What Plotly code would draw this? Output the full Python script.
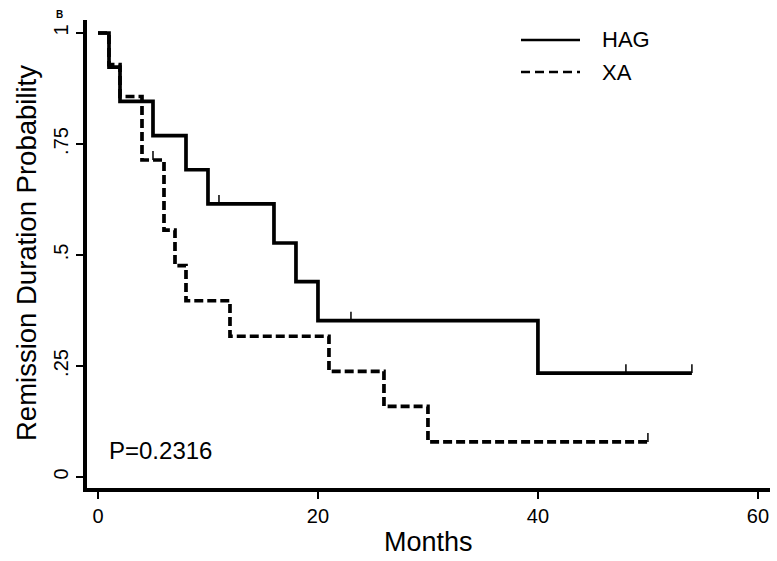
import plotly.graph_objects as go

# Kaplan-Meier step data (months, survival probability)
hag_times = [0, 1, 2, 5, 8, 10, 16, 18, 20, 40, 54]
hag_surv = [1.0, 0.923, 0.846, 0.769, 0.692, 0.615, 0.527, 0.440, 0.352, 0.234, 0.234]
hag_censor_t = [11, 23, 48, 54]
hag_censor_s = [0.615, 0.352, 0.234, 0.234]

xa_times = [0, 1, 2, 4, 6, 7, 8, 12, 21, 26, 30, 50]
xa_surv = [1.0, 0.929, 0.857, 0.714, 0.556, 0.476, 0.397, 0.317, 0.238, 0.159, 0.079, 0.079]
xa_censor_t = [5, 50]
xa_censor_s = [0.714, 0.079]

x_ticks = [0, 20, 40, 60]
y_ticks = [0, 0.25, 0.5, 0.75, 1]
y_ticktext = ["0", ".25", ".5", ".75", "1"]

FONT = "Liberation Sans, Arial, sans-serif"
W, H = 777, 561
ML, MR, MT, MB = 87, 7, 20, 73
PW, PH = W - ML - MR, H - MT - MB


def px(xp):
    return (xp - ML) / PW


def py(yp):
    return (H - MB - yp) / PH


def censor_segments(ts, ss, h=0.02):
    xs, ys = [], []
    for t, s in zip(ts, ss):
        xs += [t, t, None]
        ys += [s, s + h, None]
    return xs, ys


fig = go.Figure()
fig.add_trace(go.Scatter(x=hag_times, y=hag_surv, mode="lines", line_shape="hv",
                         line=dict(color="black", width=3.7), name="HAG"))
cx, cy = censor_segments(hag_censor_t, hag_censor_s)
fig.add_trace(go.Scatter(x=cx, y=cy, mode="lines", line=dict(color="black", width=1.5),
                         showlegend=False, hoverinfo="skip"))

fig.add_trace(go.Scatter(x=xa_times, y=xa_surv, mode="lines", line_shape="hv",
                         line=dict(color="black", width=3.7, dash="9px,4px"), name="XA"))
cx, cy = censor_segments(xa_censor_t, xa_censor_s)
fig.add_trace(go.Scatter(x=cx, y=cy, mode="lines", line=dict(color="black", width=1.5),
                         showlegend=False, hoverinfo="skip"))

# manual legend
fig.add_shape(type="line", xref="paper", yref="paper", x0=px(521), x1=px(580), y0=py(40), y1=py(40),
              line=dict(color="black", width=2.5))
fig.add_shape(type="line", xref="paper", yref="paper", x0=px(521), x1=px(580), y0=py(72), y1=py(72),
              line=dict(color="black", width=2.5, dash="9px,5px"))
fig.add_annotation(xref="paper", yref="paper", x=px(600), y=py(40), text="HAG", showarrow=False,
                   xanchor="left", yanchor="middle", font=dict(family=FONT, size=22, color="black"))
fig.add_annotation(xref="paper", yref="paper", x=px(600), y=py(72), text="XA", showarrow=False,
                   xanchor="left", yanchor="middle", font=dict(family=FONT, size=22, color="black"))

fig.add_annotation(x=0.8, y=0.06, text="P=0.2316", showarrow=False, xanchor="left", yanchor="middle",
                   font=dict(family=FONT, size=24, color="black"))
fig.add_annotation(xref="paper", yref="paper", x=px(59), y=py(14), text="<b>B</b>",
                   showarrow=False, xanchor="center", yanchor="middle",
                   font=dict(family=FONT, size=10, color="black"))

# axis titles
fig.add_annotation(xref="paper", yref="paper", x=px(428), y=py(542), text="Months", showarrow=False,
                   xanchor="center", yanchor="middle", font=dict(family=FONT, size=27, color="black"))
fig.add_annotation(xref="paper", yref="paper", x=px(26), y=py(253), text="Remission Duration Probability",
                   showarrow=False, textangle=-90, xanchor="center", yanchor="middle",
                   font=dict(family=FONT, size=27.5, color="black"))

fig.update_layout(
    width=W, height=H,
    margin=dict(l=ML, r=MR, t=MT, b=MB),
    plot_bgcolor="white", paper_bgcolor="white",
    showlegend=False,
    font=dict(family=FONT, color="black"),
    xaxis=dict(range=[-1, 61.1], tickvals=x_ticks, showgrid=False, zeroline=False,
               showline=True, linecolor="black", linewidth=3.5, automargin=False,
               ticks="outside", ticklen=7, tickwidth=2, tickcolor="black",
               tickfont=dict(family=FONT, size=20)),
    yaxis=dict(range=[-0.0248, 1.0293], tickvals=y_ticks, ticktext=y_ticktext,
               showgrid=False, zeroline=False, automargin=False,
               showline=True, linecolor="black", linewidth=3.5,
               ticks="outside", ticklen=7, tickwidth=2, tickcolor="black",
               tickangle=-90, tickfont=dict(family=FONT, size=20)),
)

fig.write_html("out.html", config={"displayModeBar": False},
               post_script="document.body.style.margin='0';document.body.style.overflow='hidden';")
